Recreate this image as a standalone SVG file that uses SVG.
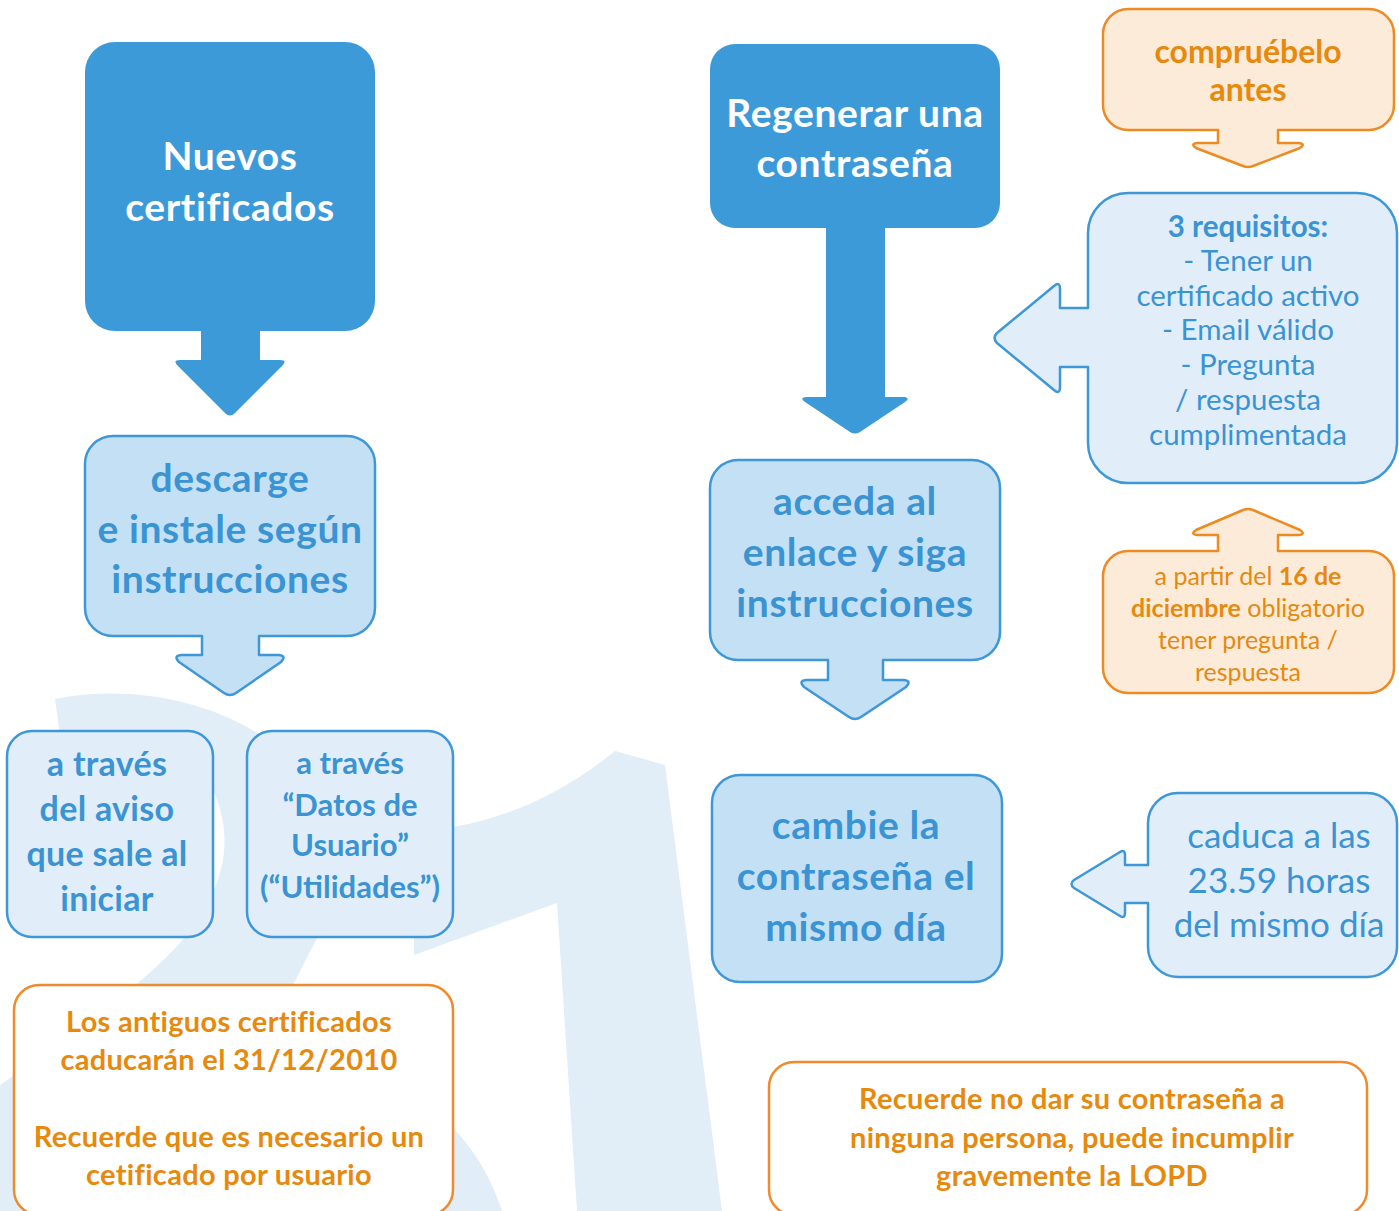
<svg xmlns="http://www.w3.org/2000/svg" width="1399" height="1211" viewBox="0 0 1399 1211">
<style>
.bg{fill:#e1eef8}
.dark{fill:#3d9ad9}
.mid{fill:#c4e0f5;stroke:#3d97d8;stroke-width:2.5;stroke-linejoin:round}
.light{fill:#e1eef9;stroke:#3d97d8;stroke-width:2.5;stroke-linejoin:round}
.orl{fill:#fdebd9;stroke:#ee8a22;stroke-width:2.5;stroke-linejoin:round}
.orw{fill:#ffffff;stroke:#f08a2a;stroke-width:2.5}
text{font-family:Lato,"Open Sans","Liberation Sans",sans-serif;text-anchor:middle}
.tw{fill:#ffffff;font-weight:bold;font-size:39px;letter-spacing:0.6px}
.tb{fill:#3a94d4;font-weight:bold;font-size:39px;letter-spacing:0.6px}
.tb2{fill:#3a94d4;font-weight:bold;font-size:34px;letter-spacing:0.3px}
.tb3{fill:#3a94d4;font-weight:bold;font-size:31px}
.tr{fill:#3a94d4;font-size:29.5px}
.tr2{fill:#3a94d4;font-size:35px}
.to{fill:#e6890d;font-weight:bold;font-size:29px;letter-spacing:0.3px}
.to2{fill:#e6890d;font-weight:bold;font-size:32px}
.to3{fill:#e6890d;font-size:25px}
</style>
<rect width="1399" height="1211" fill="#ffffff"/>
<g id="watermark">
<path class="bg" d="M55,699 C130,684 215,700 275,745 C345,800 345,890 317,938 L294,983 L120,1211 L0,1211 L0,1085 C60,1045 150,980 184,938 C215,900 240,850 213,790 C190,745 120,720 60,735 Z"/>
<path class="bg" d="M453,1128 C475,1150 492,1180 502,1211 L440,1211 L440,1128 Z"/>
<path class="bg" d="M414,955 L414,880 L453,827 Q540,812 615,751 L665,765 L722,1211 L577,1211 L557,903 Z"/>
</g>
<g id="connectors"></g>
<g id="n1">
<path class="dark" d="M115,42 H345 A30,30 0 0 1 375,72 V301 A30,30 0 0 1 345,331 H260 V360 H280 Q288,360 282,366 L235,413 Q230,418 225,413 L178,366 Q172,360 180,360 H201 V331 H115 A30,30 0 0 1 85,301 V72 A30,30 0 0 1 115,42 Z"/>
<text class="tw" x="230" y="170">Nuevos</text>
<text class="tw" x="230" y="221">certificados</text>
</g>
<g id="n2">
<path class="dark" d="M735,44 H975 A25,25 0 0 1 1000,69 V203 A25,25 0 0 1 975,228 H885 V397 H904 Q911,398 905,402 L860,432 Q855,435 850,432 L805,402 Q799,398 806,397 H826 V228 H735 A25,25 0 0 1 710,203 V69 A25,25 0 0 1 735,44 Z"/>
<text class="tw" x="855" y="127">Regenerar una</text>
<text class="tw" x="855" y="177">contraseña</text>
</g>
<g id="n3">
<path class="mid" d="M113,436 H347 A28,28 0 0 1 375,464 V608 A28,28 0 0 1 347,636 H259 V655 H279 Q287,656 281,662 L236,693 Q230,697 224,693 L179,662 Q173,656 181,655 H202 V636 H113 A28,28 0 0 1 85,608 V464 A28,28 0 0 1 113,436 Z"/>
<text class="tb" x="230" y="492">descarge</text>
<text class="tb" x="230" y="543">e instale según</text>
<text class="tb" x="230" y="593">instrucciones</text>
</g>
<g id="n4">
<path class="mid" d="M738,460 H972 A28,28 0 0 1 1000,488 V632 A28,28 0 0 1 972,660 H883 V680 H904 Q912,681 906,687 L861,717 Q855,721 849,717 L804,687 Q798,681 806,680 H828 V660 H738 A28,28 0 0 1 710,632 V488 A28,28 0 0 1 738,460 Z"/>
<text class="tb" x="855" y="515">acceda al</text>
<text class="tb" x="855" y="566">enlace y siga</text>
<text class="tb" x="855" y="617">instrucciones</text>
</g>
<g id="n5">
<rect class="mid" x="712" y="775" width="290" height="207" rx="28"/>
<text class="tb" x="856" y="839">cambie la</text>
<text class="tb" x="856" y="890">contraseña el</text>
<text class="tb" x="856" y="941">mismo día</text>
</g>
<g id="n6">
<rect class="light" x="7" y="731" width="206" height="206" rx="25"/>
<text class="tb2" x="107" y="776">a través</text>
<text class="tb2" x="107" y="821">del aviso</text>
<text class="tb2" x="107" y="866">que sale al</text>
<text class="tb2" x="107" y="911">iniciar</text>
</g>
<g id="n7">
<rect class="light" x="247" y="731" width="206" height="206" rx="25"/>
<text class="tb3" x="350" y="774">a través</text>
<text class="tb3" x="350" y="816">“Datos de</text>
<text class="tb3" x="350" y="856">Usuario”</text>
<text class="tb3" x="350" y="898">(“Utilidades”)</text>
</g>
<g id="n8">
<rect class="orw" x="14" y="985" width="439" height="230" rx="25"/>
<text class="to" x="229" y="1032">Los antiguos certificados</text>
<text class="to" x="229" y="1070">caducarán el 31/12/2010</text>
<text class="to" x="229" y="1147">Recuerde que es necesario un</text>
<text class="to" x="229" y="1185">cetificado por usuario</text>
</g>
<g id="n9">
<rect class="orw" x="769" y="1062" width="598" height="153" rx="25"/>
<text class="to" x="1072" y="1109">Recuerde no dar su contraseña a</text>
<text class="to" x="1072" y="1148">ninguna persona, puede incumplir</text>
<text class="to" x="1072" y="1186">gravemente la LOPD</text>
</g>
<g id="n10">
<path class="orl" d="M1128,9 H1369 A25,25 0 0 1 1394,34 V105 A25,25 0 0 1 1369,130 H1278 V143 H1299 Q1306,144 1300,148 L1253,166 Q1248,168 1243,166 L1196,148 Q1190,144 1197,143 H1218 V130 H1128 A25,25 0 0 1 1103,105 V34 A25,25 0 0 1 1128,9 Z"/>
<text class="to2" x="1248" y="63">compruébelo</text>
<text class="to2" x="1248" y="101">antes</text>
</g>
<g id="n11">
<path class="light" d="M1128,193 H1357 A40,40 0 0 1 1397,233 V443 A40,40 0 0 1 1357,483 H1128 A40,40 0 0 1 1088,443 V367 H1060 V387 Q1060,395 1054,390 L997,343 Q992,338 997,333 L1054,286 Q1060,281 1060,289 V308 H1088 V233 A40,40 0 0 1 1128,193 Z"/>
<text class="tr" x="1248" y="237" font-weight="bold">3 requisitos:</text>
<text class="tr" x="1248" y="271">- Tener un</text>
<text class="tr" x="1248" y="306">certificado activo</text>
<text class="tr" x="1248" y="340">- Email válido</text>
<text class="tr" x="1248" y="375">- Pregunta</text>
<text class="tr" x="1248" y="410">/ respuesta</text>
<text class="tr" x="1248" y="445">cumplimentada</text>
</g>
<g id="n12">
<path class="orl" d="M1128,551 H1218 V535 H1197 Q1190,534 1196,530 L1243,510 Q1248,508 1253,510 L1300,530 Q1306,534 1299,535 H1278 V551 H1369 A25,25 0 0 1 1394,576 V668 A25,25 0 0 1 1369,693 H1128 A25,25 0 0 1 1103,668 V576 A25,25 0 0 1 1128,551 Z"/>
<text class="to3" x="1248" y="585">a partir del <tspan font-weight="bold">16 de</tspan></text>
<text class="to3" x="1248" y="617"><tspan font-weight="bold">diciembre</tspan> obligatorio</text>
<text class="to3" x="1248" y="649">tener pregunta /</text>
<text class="to3" x="1248" y="681">respuesta</text>
</g>
<g id="n13">
<path class="light" d="M1178,793 H1367 A30,30 0 0 1 1397,823 V947 A30,30 0 0 1 1367,977 H1178 A30,30 0 0 1 1148,947 V903 H1125 V913 Q1125,919 1120,916 L1074,888 Q1069,884 1074,880 L1120,852 Q1125,849 1125,855 V865 H1148 V823 A30,30 0 0 1 1178,793 Z"/>
<text class="tr2" x="1279" y="848">caduca a las</text>
<text class="tr2" x="1279" y="893">23.59 horas</text>
<text class="tr2" x="1279" y="937">del mismo día</text>
</g>
</svg>
